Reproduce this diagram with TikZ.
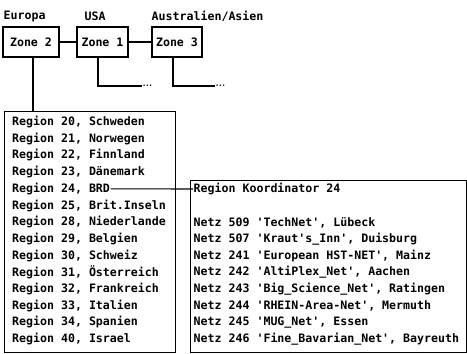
\documentclass[tikz,border=0pt]{standalone}
\usepackage{fontspec}
\setmonofont{DejaVu Sans Mono}
\begin{document}
\begin{tikzpicture}[x=1pt,y=-1pt,
  txt/.style={font=\ttfamily\bfseries\fontsize{11.6}{14}\selectfont, anchor=west, inner sep=0.5pt},
  zonebox/.style={draw, line width=1.1pt, minimum height=30pt, inner sep=0pt, font=\ttfamily\bfseries\fontsize{11.6}{14}\selectfont},
  bigbox/.style={draw, line width=1.1pt, anchor=north west, inner sep=0pt},
  conn/.style={line width=1.1pt},
  dots/.style={font=\bfseries\fontsize{10}{10}\selectfont, anchor=west, inner sep=0.5pt}]
\useasboundingbox (0,0) rectangle (467,354);
% headers
\node[txt] (heu) at (3,16) {Europa};
\node[txt] (hus) at (84,16) {USA};
\node[txt] (has) at (151,16) {Australien/Asien};
% zones
\node[zonebox, minimum width=56pt] (z2) at (31,42) {Zone 2};
\node[zonebox, minimum width=51pt] (z1) at (102.5,42) {Zone 1};
\node[zonebox, minimum width=50pt] (z3) at (177,42) {Zone 3};
\draw[conn] (z2.east) -- (z1.west);
\draw[conn] (z1.east) -- (z3.west);
\coordinate (d1) at (142,86);
\coordinate (d3) at (215,86);
\draw[conn] ([xshift=-4.5pt]z1.south) |- (d1);
\draw[conn] ([xshift=-4pt]z3.south) |- (d3);
\node[dots] (dd1) at (d1) {...};
\node[dots] (dd3) at (d3) {...};
% boxes
\node[bigbox, minimum width=171pt, minimum height=241pt] (regbox) at (3.5,111) {};
\node[bigbox, minimum width=276pt, minimum height=172pt] (netbox) at (190,180) {};
\draw[conn] ([xshift=2pt]z2.south) -- ([xshift=2pt]z2.south |- regbox.north);
% regions
\foreach \t/\n [count=\i from 0] in {{Region 20, Schweden}/r20,{Region 21, Norwegen}/r21,{Region 22, Finnland}/r22,{Region 23, Dänemark}/r23,{Region 24, BRD}/r24,{Region 25, Brit.Inseln}/r25,{Region 28, Niederlande}/r28,{Region 29, Belgien}/r29,{Region 30, Schweiz}/r30,{Region 31, Österreich}/r31,{Region 32, Frankreich}/r32,{Region 33, Italien}/r33,{Region 34, Spanien}/r34,{Region 40, Israel}/r40}
  \node[txt] (\n) at (11.5,{122+16.7*\i}) {\t};
% right box
\node[txt] (koord) at (193,189) {Region Koordinator 24};
\foreach \t/\n [count=\i from 2] in {{Netz 509 'TechNet', Lübeck}/n509,{Netz 507 'Kraut's\_Inn', Duisburg}/n507,{Netz 241 'European HST-NET', Mainz}/n241,{Netz 242 'AltiPlex\_Net', Aachen}/n242,{Netz 243 'Big\_Science\_Net', Ratingen}/n243,{Netz 244 'RHEIN-Area-Net', Mermuth}/n244,{Netz 245 'MUG\_Net', Essen}/n245,{Netz 246 'Fine\_Bavarian\_Net', Bayreuth}/n246}
  \node[txt] (\n) at (193,{189+16.7*\i}) {\t};
\draw[conn] (r24.east) -- (koord.west);
\end{tikzpicture}
\end{document}
